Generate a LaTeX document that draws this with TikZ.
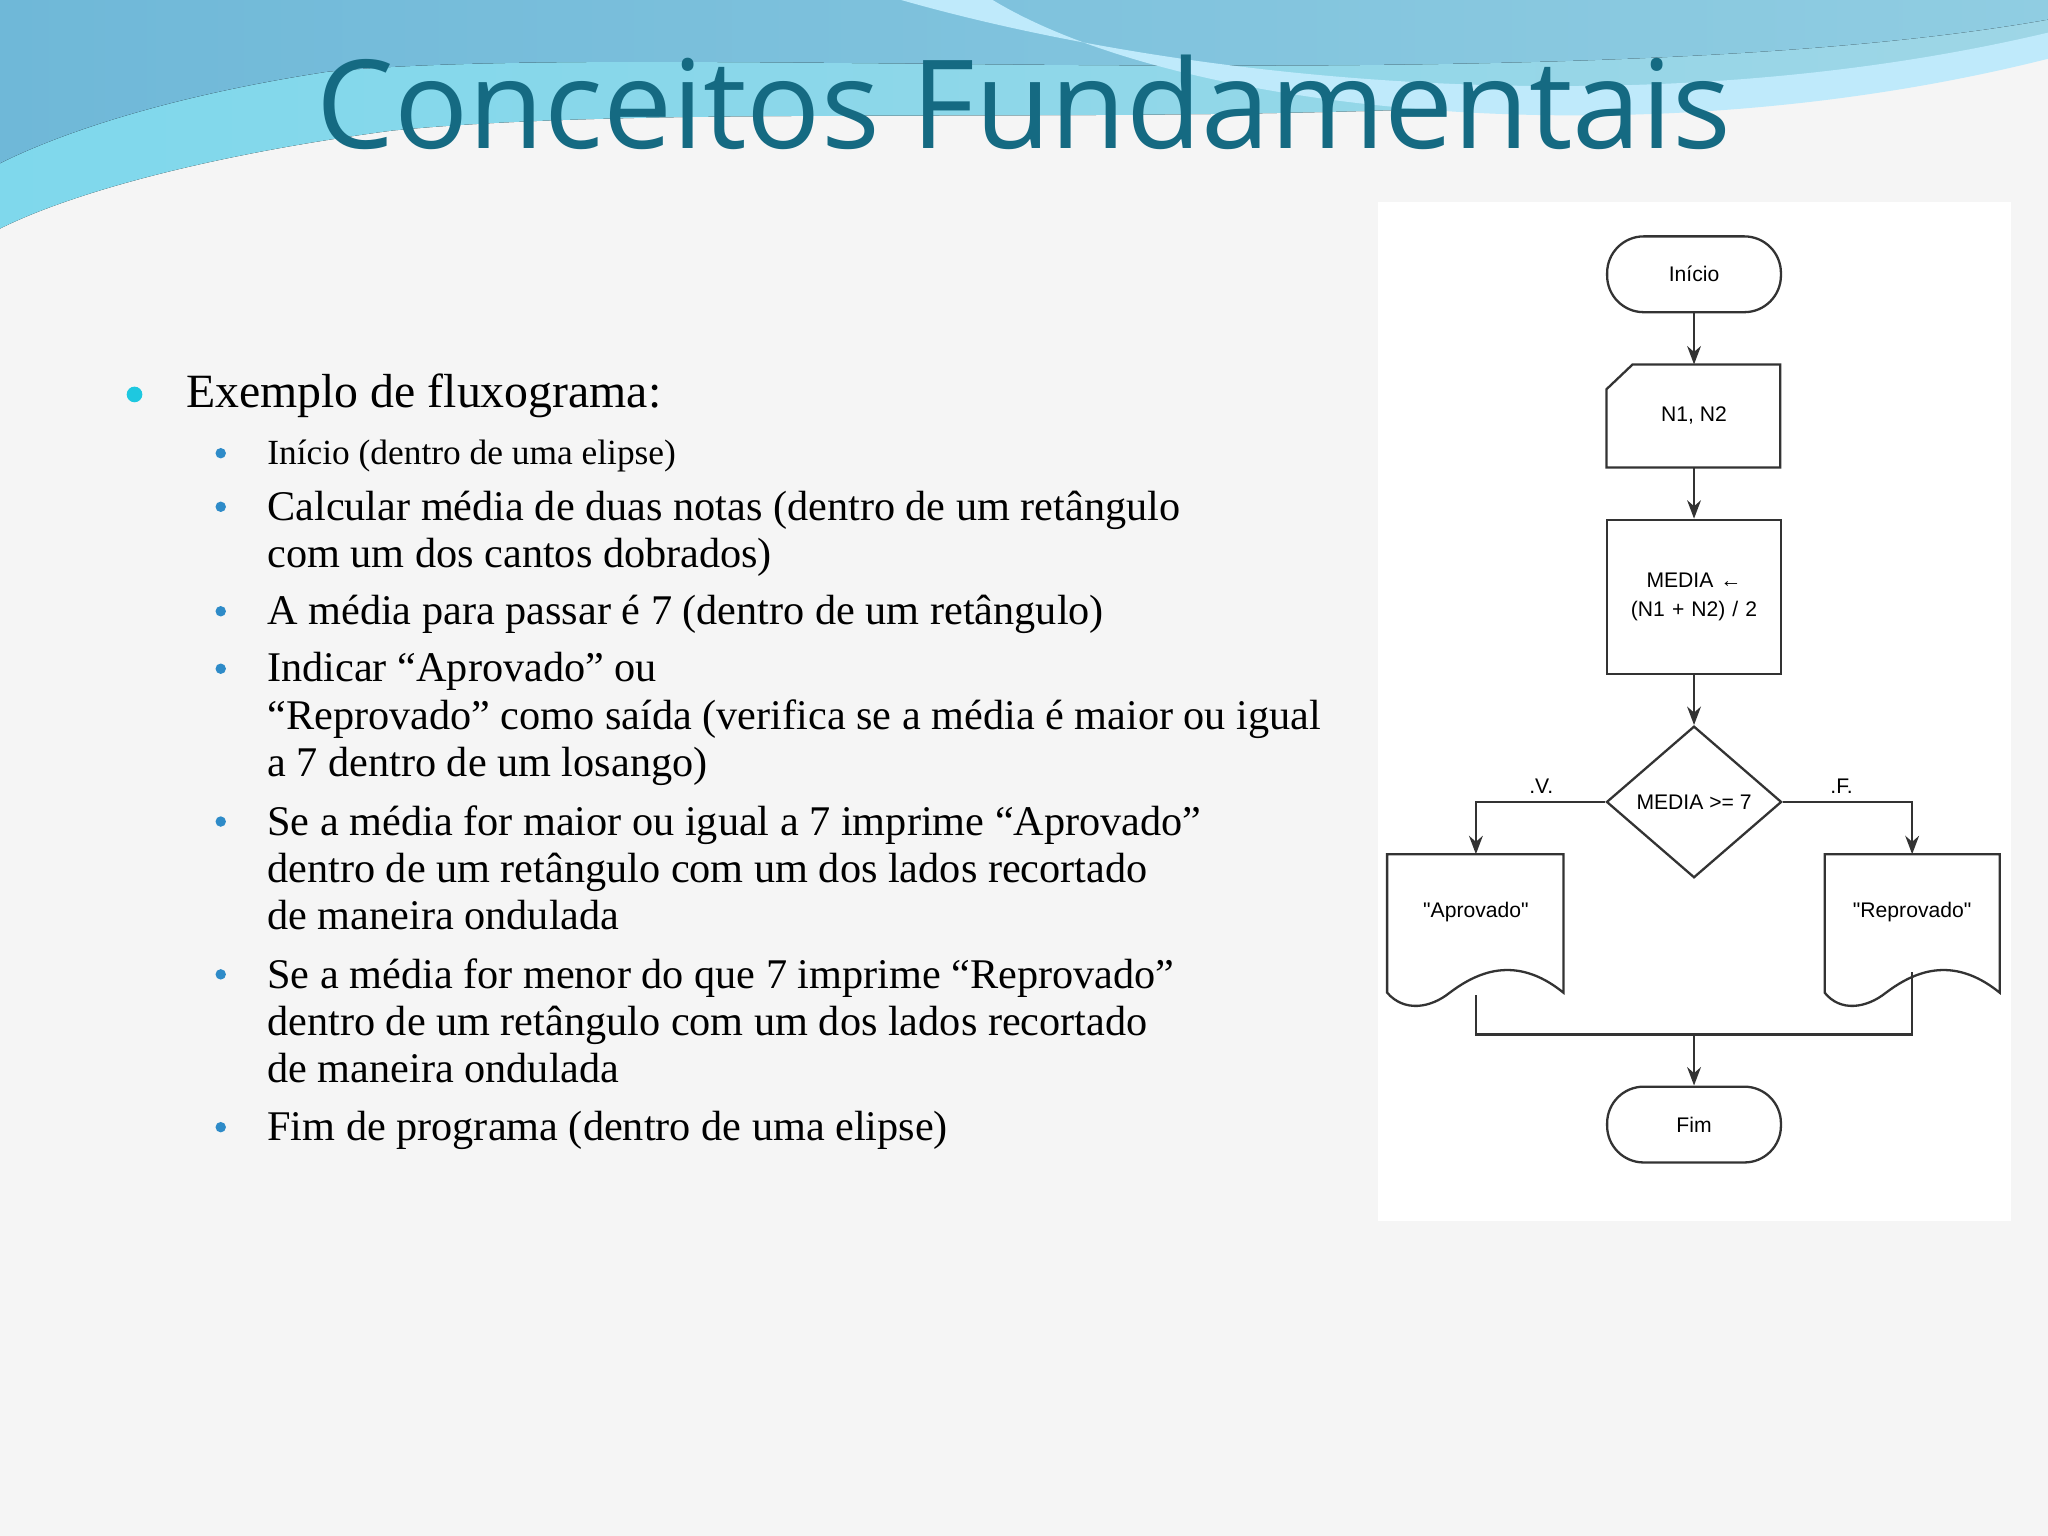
\documentclass[tikz,border=0pt]{standalone}
\usepackage{fontspec}
\setmainfont{Liberation Serif}
\newfontfamily\titlefont{Open Sans}
\newfontfamily\fcfont{Liberation Sans}
\usetikzlibrary{arrows.meta,shapes.geometric}
\definecolor{titleblue}{HTML}{156A82}
\definecolor{bulcyan}{HTML}{1EC8E0}
\definecolor{bulblue}{HTML}{2E8BC8}
\definecolor{wavea}{HTML}{7FD8EC}
\definecolor{waveb}{HTML}{6FB8D8}
\definecolor{wavec}{HTML}{9ED6E6}
\begin{document}
\begin{tikzpicture}[x=0.01cm,y=-0.01cm,
  fc/.style={draw=black!80,line width=0.5pt,font=\fcfont\fontsize{4.6}{6.2}\selectfont,align=center},
  term/.style={fc,rectangle,rounded corners=0.28cm,minimum width=1.33cm,minimum height=0.58cm},
  conn/.style={draw=black!80,line width=0.5pt,-{Stealth[length=4pt,width=3pt]}},
  sub/.style={anchor=north west,align=left,font=\fontsize{9.2}{10.25}\selectfont,inner sep=0pt}]
\useasboundingbox (0,0) rectangle (1568,1176);
\fill[black!4] (0,0) rectangle (1568,1176);
% header wave
\fill[left color=wavea,right color=wavec] (0,0) -- (1568,0) -- (1568,30) .. controls (1200,120) and (600,70) .. (300,100) .. controls (150,120) and (50,150) .. (0,175) -- cycle;
\fill[left color=waveb,right color=wavec!70!waveb] (0,0) -- (1568,0) -- (1568,15) .. controls (1200,80) and (500,30) .. (250,55) .. controls (120,75) and (40,105) .. (0,125) -- cycle;
\fill[white!75!cyan] (690,0) .. controls (900,60) and (1250,100) .. (1568,25) -- (1568,45) .. controls (1250,125) and (900,85) .. (760,0) -- cycle;
\node[font=\titlefont\fontsize{26.8}{30}\selectfont,text=titleblue] (title) at (784,78) {Conceitos Fundamentais};
% bullets
\fill[bulcyan] (103,302) circle (6);
\node[anchor=west,font=\fontsize{10.4}{12}\selectfont,inner sep=0pt] (b0) at (142,303) {Exemplo de fluxograma:};
\foreach \y in {347,388,468,512,629,746,863} \fill[bulblue] (169,\y) circle (4);
\node[sub,font=\fontsize{7.7}{9}\selectfont] (s1) at (204,336) {Início (dentro de uma elipse)};
\node[sub] (s2) at (204,375) {Calcular média de duas notas (dentro de um retângulo\\com um dos cantos dobrados)};
\node[sub] (s3) at (204,455) {A média para passar é 7 (dentro de um retângulo)};
\node[sub] (s4) at (204,499) {Indicar “Aprovado” ou\\“Reprovado” como saída (verifica se a média é maior ou igual\\a 7 dentro de um losango)};
\node[sub] (s5) at (204,616) {Se a média for maior ou igual a 7 imprime “Aprovado”\\dentro de um retângulo com um dos lados recortado\\de maneira ondulada};
\node[sub] (s6) at (204,733) {Se a média for menor do que 7 imprime “Reprovado”\\dentro de um retângulo com um dos lados recortado\\de maneira ondulada};
\node[sub] (s7) at (204,850) {Fim de programa (dentro de uma elipse)};
% flowchart panel
\fill[white] (1055,155) rectangle (1540,935);
\node[term] (ini) at (1297,210) {Início};
\draw[fc] (1250,279) -- (1363,279) -- (1363,358) -- (1230,358) -- (1230,298) -- cycle;
\node[fc,draw=none] (inp) at (1297,318) {N1, N2};
\node[fc,minimum width=1.33cm,minimum height=1.18cm,text width=1.1cm] (med) at (1297,457) {MEDIA ←\\(N1 + N2) / 2};
\node[fc,diamond,minimum width=1.34cm,minimum height=1.16cm,inner sep=0pt,aspect=1.15] (dec) at (1297,614) {MEDIA >= 7};
\draw[fc] (1062,654) -- (1197,654) -- (1197,760) .. controls (1160,730) and (1130,745) .. (1110,760) .. controls (1095,772) and (1075,775) .. (1062,760) -- cycle;
\node[fc,draw=none] (apr) at (1130,698) {"Aprovado"};
\draw[fc] (1397,654) -- (1531,654) -- (1531,760) .. controls (1494,730) and (1464,745) .. (1444,760) .. controls (1429,772) and (1409,775) .. (1397,760) -- cycle;
\node[fc,draw=none] (rep) at (1464,698) {"Reprovado"};
\node[term] (fim) at (1297,861) {Fim};
\coordinate (aprtop) at (1130,654);
\coordinate (reptop) at (1464,654);
\coordinate (aprb) at (1130,762);
\coordinate (repb) at (1464,744);
\coordinate (mrg) at (1297,792);
\draw[conn] (ini) -- (1297,279);
\draw[conn] (1297,358) -- (med);
\draw[conn] (med) -- (dec);
\draw[conn] (dec.west) -| (aprtop);
\draw[conn] (dec.east) -| (reptop);
\draw[fc] (aprb) |- (mrg) -| (repb);
\draw[conn] (mrg) -- (fim);
\node[fc,draw=none,anchor=south,inner sep=1pt] (lv) at (1180,612) {.V.};
\node[fc,draw=none,anchor=south,inner sep=1pt] (lf) at (1410,612) {.F.};
\end{tikzpicture}
\end{document}
